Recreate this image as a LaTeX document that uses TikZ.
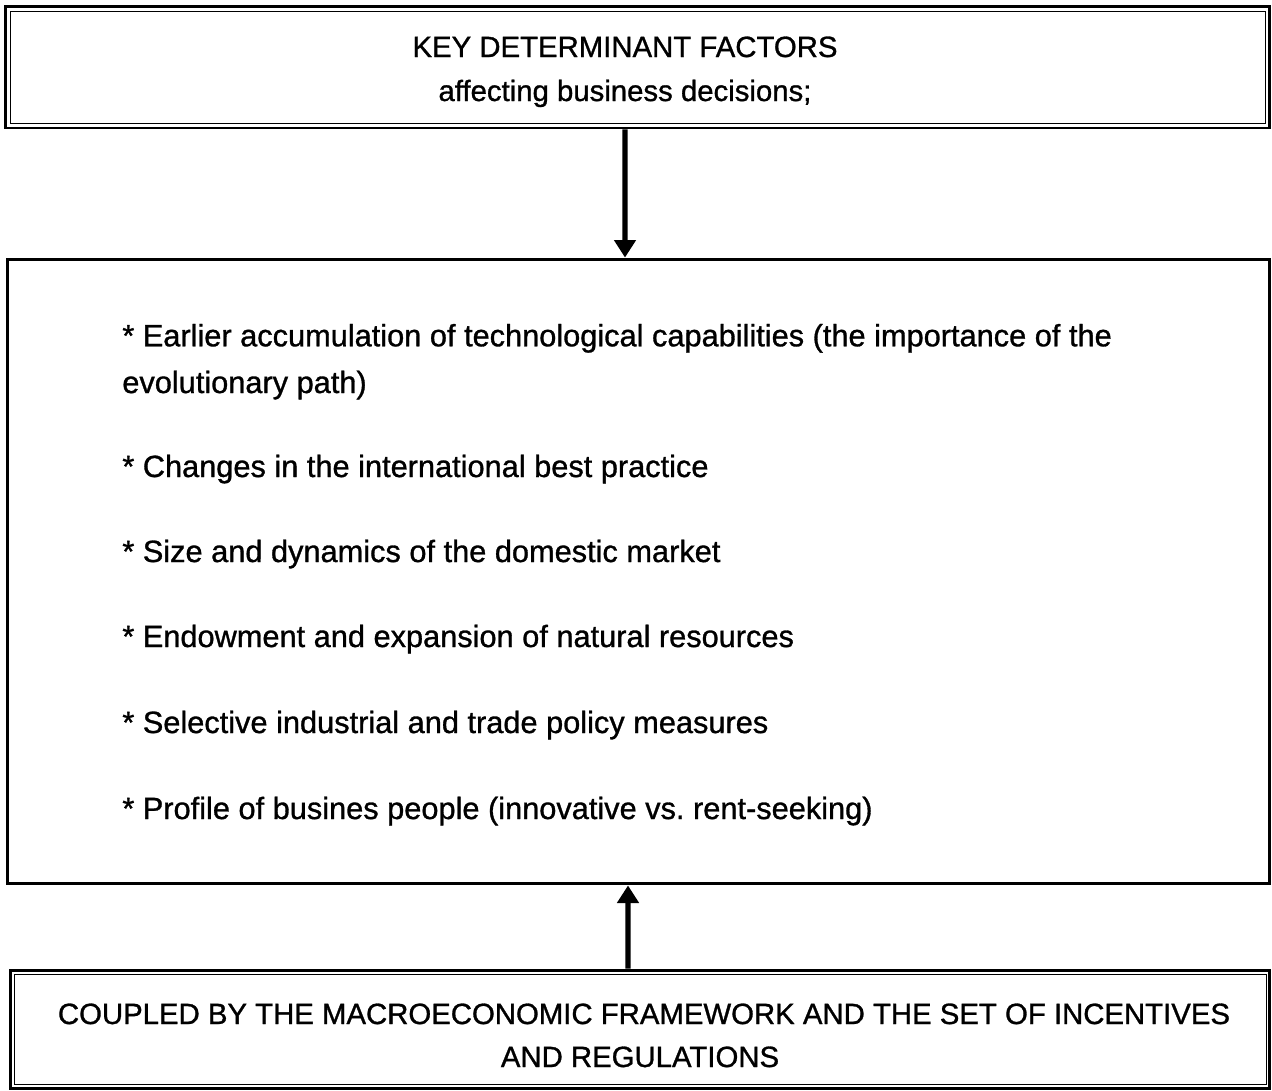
\documentclass[tikz,border=0pt]{standalone}
\usepackage{fontspec}
\setmainfont[FakeBold=1]{Liberation Sans}
\usetikzlibrary{calc,arrows.meta}

\begin{document}
\begin{tikzpicture}[x=0.02cm,y=-0.02cm,
    frame/.style ={draw, line width=1.7pt, inner sep=0pt},
    innerframe/.style ={line width=0.7pt},
    heading/.style ={anchor=base, inner sep=0pt, align=center, font=\fontsize{16.7}{25}\selectfont},
    factor/.style ={anchor=base west, inner sep=0pt, align=left, font=\fontsize{17.5}{25}\selectfont},
    link/.style ={line width=2.9pt, -{Triangle[width=12pt,length=10pt]}}]
   \useasboundingbox (0,0) rectangle (1272,1090);
   % boxes
   \node[frame, minimum width=25.3cm, minimum height=2.44cm] (key) at (637.5,67) {};
   \draw[innerframe] ($(key.north west)+(7,7)$) rectangle ($(key.south east)+(-6,-6)$);
   \node[frame, minimum width=25.26cm, minimum height=12.5cm] (factors) at (638.5,571.5) {};
   \node[frame, minimum width=25.2cm, minimum height=2.36cm] (coupled) at (640,1029) {};
   \draw[innerframe] ($(coupled.north west)+(6,6)$) rectangle ($(coupled.south east)+(-5,-5)$);
   % texts
   \node[heading] (keytext) at (625,57) {KEY DETERMINANT FACTORS};
   \node[heading] (keysub) at (625,101) {affecting business decisions;};
   \node[factor] (f1) at (122,393) {* Earlier accumulation of technological capabilities (the importance of the\\[1.6pt]evolutionary path)};
   \node[factor] (f2) at (122,477) {* Changes in the international best practice};
   \node[factor] (f3) at (122,562) {* Size and dynamics of the domestic market};
   \node[factor] (f4) at (122,647) {* Endowment and expansion of natural resources};
   \node[factor] (f5) at (122,733) {* Selective industrial and trade policy measures};
   \node[factor] (f6) at (122,819) {* Profile of busines people (innovative vs.\ rent-seeking)};
   \node[heading] (coupledtext) at (644,1024) {COUPLED BY THE MACROECONOMIC FRAMEWORK AND THE SET OF INCENTIVES};
   \node[heading] (coupledsub) at (640,1067) {AND REGULATIONS};
   % arrows
   \draw[link] ([xshift=-0.25cm]key.south) -- ([xshift=-0.27cm]factors.north);
   \draw[link] ([xshift=-0.24cm]coupled.north) -- ([xshift=-0.21cm]factors.south);
\end{tikzpicture}
\end{document}
